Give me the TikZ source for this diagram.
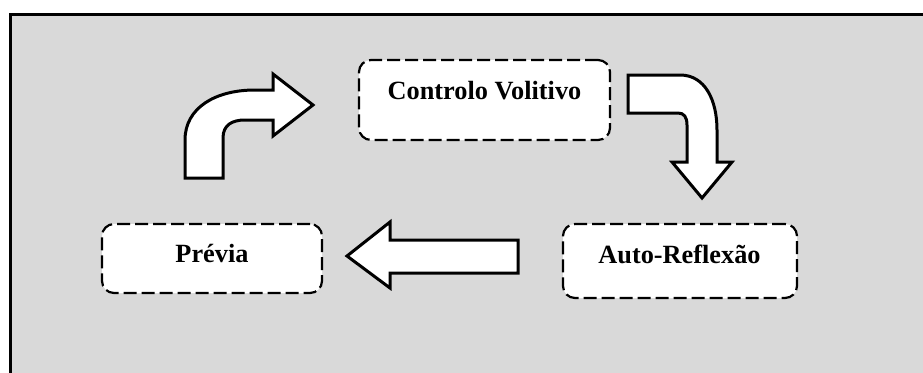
\documentclass[tikz,border=0pt]{standalone}
\usepackage{fontspec}
\setmainfont{Liberation Serif}
\definecolor{bggray}{RGB}{217,217,217}
\begin{document}
\begin{tikzpicture}[x=1pt,y=-1pt,
  box/.style={draw=black, fill=white, line width=2.2pt, rounded corners=12pt,
    dash pattern=on 13pt off 5pt, inner sep=0pt},
  lbl/.style={font=\fontsize{26.3}{30}\selectfont\bfseries, inner sep=0pt},
  blockarrow/.style={draw=black, fill=white, line width=3pt, line join=miter}]
\useasboundingbox (0,0) rectangle (923,372);
\clip (0,0) rectangle (923,372);
\draw[fill=bggray, line width=3pt] (10.5,14.5) rectangle (940,390);
% boxes
\node[box, minimum width=251pt, minimum height=80pt] (cv) at (484.5,100) {};
\node[lbl, anchor=base] (cvt) at (484.5,99) {Controlo Volitivo};
\node[box, minimum width=220pt, minimum height=69pt] (pv) at (212,258.5) {};
\node[lbl, anchor=base] (pvt) at (212,262) {Prévia};
\node[box, minimum width=234pt, minimum height=74pt] (ar) at (680,261) {};
\node[lbl, anchor=base] (art) at (679.5,263) {Auto-Reflexão};
% block arrows
\draw[blockarrow] (185,178) -- (185,140) .. controls (185,108) and (215,90) .. (255,90)
  -- (273,90) -- (273,74) -- (313,105) -- (273,136) -- (273,120) -- (245,120)
  .. controls (232,120) and (223,125) .. (223,138) -- (223,178) -- cycle;
\draw[blockarrow] (628,75) -- (680,75) .. controls (705,75) and (717,100) .. (717,130)
  -- (717,162) -- (732,162) -- (702,198) -- (672,162) -- (687,162) -- (687,125)
  .. controls (687,117) and (684,113) .. (678,113) -- (628,113) -- cycle;
\draw[blockarrow] (518,240) -- (390,240) -- (390,222) -- (347,256) -- (390,288)
  -- (390,273) -- (518,273) -- cycle;
\end{tikzpicture}
\end{document}
